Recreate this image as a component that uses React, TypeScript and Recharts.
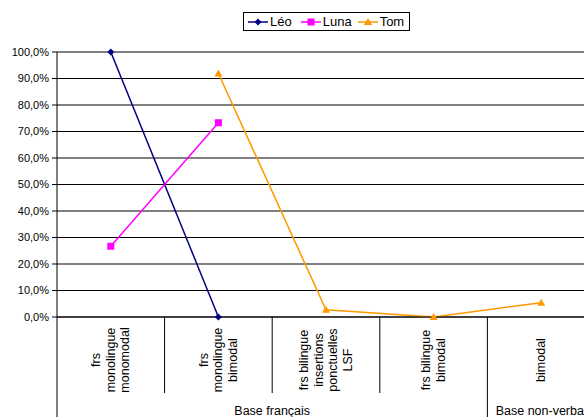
import { ComposedChart, Line, XAxis, YAxis, CartesianGrid } from 'recharts';

const categories = [
  ['frs', 'monolingue', 'monomodal'],
  ['frs', 'monolingue', 'bimodal'],
  ['frs bilingue', 'insertions', 'ponctuelles', 'LSF'],
  ['frs bilingue', 'bimodal'],
  ['bimodal'],
];
const groups = [
  { label: 'Base français', span: 4 },
  { label: 'Base non-verbal', span: 1 },
];
const leo = [100, 0, null, null, null];
const luna = [26.7, 73.3, null, null, null];
const tom = [null, 91.9, 2.7, 0, 5.4];
const yTicks = [0, 10, 20, 30, 40, 50, 60, 70, 80, 90, 100];

const FONT = 'Arial, "Liberation Sans", sans-serif';
const LEO = '#000080';
const LUNA = '#FF00FF';
const TOM = '#FF9900';

const data = categories.map((c, i) => ({ cat: c.join(' '), idx: i, Leo: leo[i], Luna: luna[i], Tom: tom[i] }));

const groupStarts: Record<number, { label: string; span: number }> = {};
{
  let k = 0;
  groups.forEach((g) => {
    groupStarts[k] = g;
    k += g.span;
  });
}

function CategoryTick(props: any) {
  const { x, y, payload } = props;
  const i = payload.index ?? 0;
  const half = payload.offset || 53.8;
  const lines = categories[i] || [];
  const lh = 14.5;
  const cy = y + 43;
  const left = x - half;
  const g = groupStarts[i];
  return (
    <g>
      {lines.map((t, j) => (
        <text
          key={j}
          transform={`translate(${x + (j - (lines.length - 1) / 2) * lh}, ${cy}) rotate(-90)`}
          textAnchor="middle"
          dominantBaseline="central"
          fontSize={12.5}
          fontFamily={FONT}
          fill="#000"
        >
          {t}
        </text>
      ))}
      <line x1={left} x2={left} y1={y} y2={g ? y + 100 : y + 76} stroke="#000" strokeWidth={1} />
      {g && (
        <text x={left + half * g.span} y={y + 98} textAnchor="middle" fontSize={12.5} fontFamily={FONT} fill="#000">
          {g.label}
        </text>
      )}
    </g>
  );
}

const diamond = (p: any) =>
  p.cy == null ? <g key={p.index} /> : (
    <path key={p.index} d={`M${p.cx},${p.cy - 3.5}L${p.cx + 3.5},${p.cy}L${p.cx},${p.cy + 3.5}L${p.cx - 3.5},${p.cy}Z`} fill={LEO} />
  );
const square = (p: any) =>
  p.cy == null ? <g key={p.index} /> : <rect key={p.index} x={p.cx - 3.5} y={p.cy - 3.5} width={7} height={7} fill={LUNA} />;
const triangle = (p: any) =>
  p.cy == null ? <g key={p.index} /> : (
    <path key={p.index} d={`M${p.cx},${p.cy - 4}L${p.cx + 4},${p.cy + 3}L${p.cx - 4},${p.cy + 3}Z`} fill={TOM} />
  );

function LegendIcon({ color, kind }: { color: string; kind: string }) {
  return (
    <svg width={20} height={10} style={{ verticalAlign: 'middle', marginRight: 2 }}>
      <line x1={0} x2={20} y1={5} y2={5} stroke={color} strokeWidth={1.5} />
      {kind === 'd' && <path d="M10,1.5L13.5,5L10,8.5L6.5,5Z" fill={color} />}
      {kind === 's' && <rect x={6.5} y={1.5} width={7} height={7} fill={color} />}
      {kind === 't' && <path d="M10,1L14,8L6,8Z" fill={color} />}
    </svg>
  );
}

export default function App() {
  return (
    <div style={{ position: 'fixed', left: 0, top: 0, width: 584, height: 417, overflow: 'hidden', background: '#fff' }}>
      <div
        style={{
          position: 'absolute',
          left: 243,
          top: 12,
          width: 161,
          height: 17,
          border: '1px solid #000',
          fontFamily: FONT,
          fontSize: 13,
          lineHeight: '17px',
          display: 'flex',
          alignItems: 'center',
          paddingLeft: 4,
          boxSizing: 'content-box',
          whiteSpace: 'nowrap',
          zIndex: 2,
        }}
      >
        <LegendIcon color={LEO} kind="d" />
        <span style={{ marginRight: 9 }}>Léo</span>
        <LegendIcon color={LUNA} kind="s" />
        <span style={{ marginRight: 6 }}>Luna</span>
        <LegendIcon color={TOM} kind="t" />
        <span>Tom</span>
      </div>
      <ComposedChart width={600} height={417} data={data} margin={{ top: 52, right: 5, bottom: 0, left: 0 }}>
        <CartesianGrid vertical={false} stroke="#000" strokeWidth={1} />
        <XAxis
          dataKey="cat"
          scale="band"
          height={100}
          interval={0}
          tickLine={false}
          tickSize={0}
          tickMargin={0}
          axisLine={{ stroke: '#000' }}
          tick={<CategoryTick />}
        />
        <YAxis
          width={57}
          domain={[0, 100]}
          ticks={yTicks}
          interval={0}
          tickSize={5}
          tickMargin={3}
          axisLine={{ stroke: '#000' }}
          tickLine={{ stroke: '#000' }}
          tick={{ fontSize: 11, fontFamily: FONT, fill: '#000' }}
          tickFormatter={(v: number) => v.toFixed(1).replace('.', ',') + '%'}
        />
        <Line dataKey="Leo" stroke={LEO} strokeWidth={1.5} dot={diamond} isAnimationActive={false} connectNulls={false} />
        <Line dataKey="Luna" stroke={LUNA} strokeWidth={1.5} dot={square} isAnimationActive={false} connectNulls={false} />
        <Line dataKey="Tom" stroke={TOM} strokeWidth={1.5} dot={triangle} isAnimationActive={false} connectNulls={false} />
      </ComposedChart>
    </div>
  );
}
